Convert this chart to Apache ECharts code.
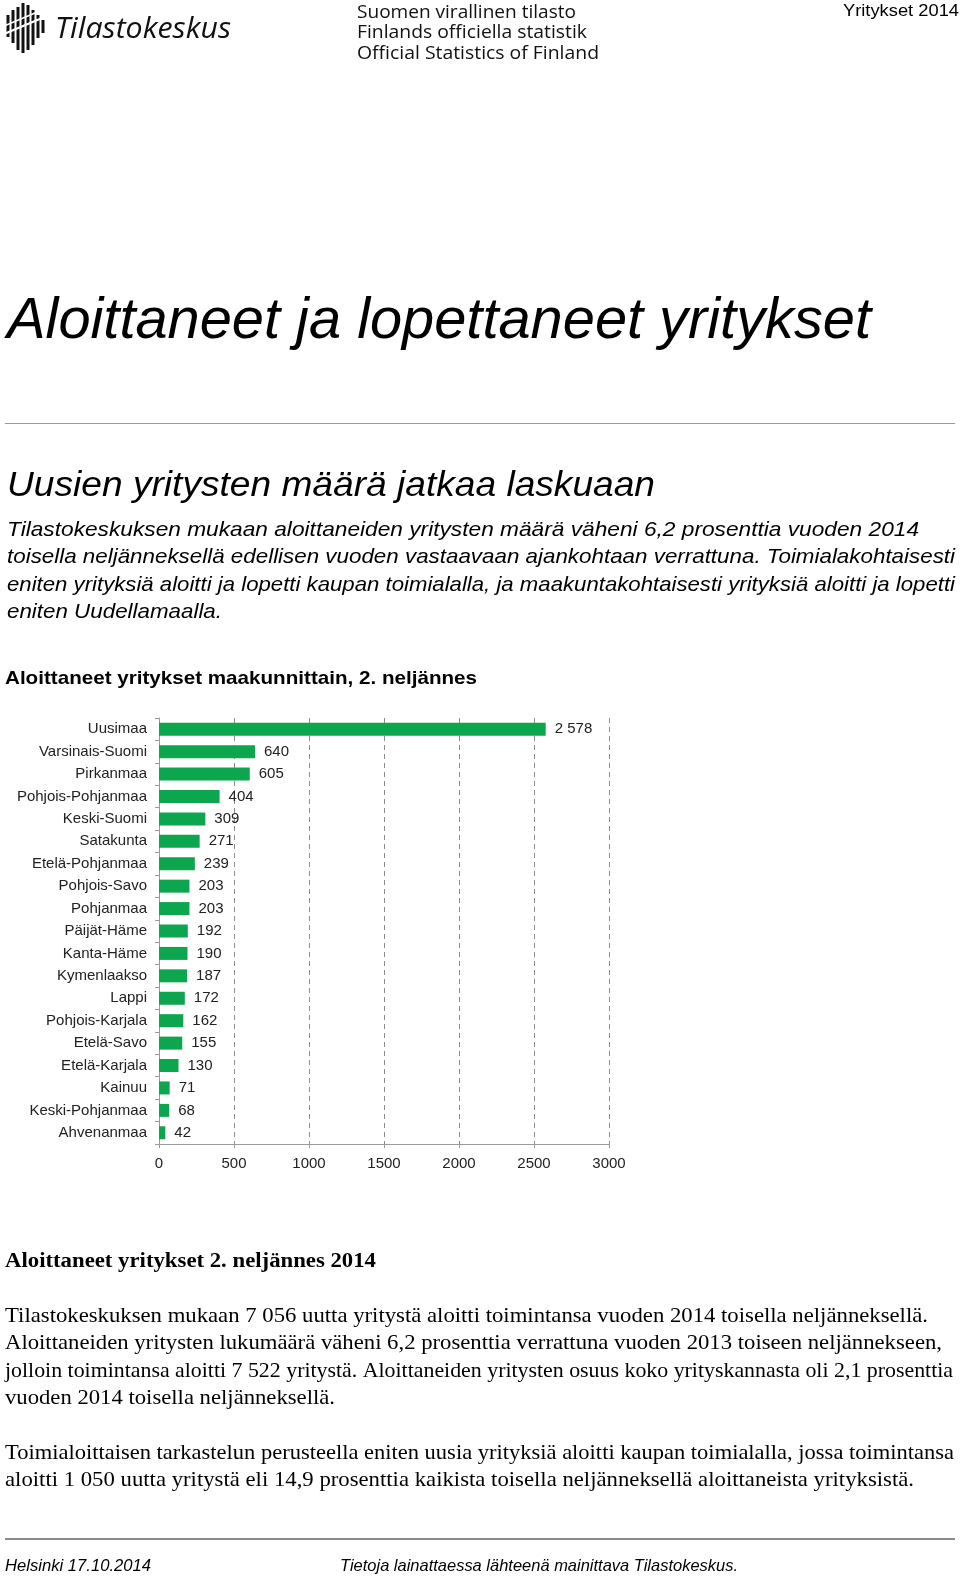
<!DOCTYPE html>
<html>
<head>
<meta charset="utf-8">
<script src="https://cdn.jsdelivr.net/npm/echarts@6/dist/echarts.min.js"></script>
<style>
html,body{margin:0;padding:0;background:#fff;}
#page{width:960px;height:1579px;}
</style>
</head>
<body>
<div id="page"></div>
<script>
// ---------- DATA ----------
const regions = ["Uusimaa","Varsinais-Suomi","Pirkanmaa","Pohjois-Pohjanmaa","Keski-Suomi","Satakunta","Etelä-Pohjanmaa","Pohjois-Savo","Pohjanmaa","Päijät-Häme","Kanta-Häme","Kymenlaakso","Lappi","Pohjois-Karjala","Etelä-Savo","Etelä-Karjala","Kainuu","Keski-Pohjanmaa","Ahvenanmaa"];
const startups = [2578,640,605,404,309,271,239,203,203,192,190,187,172,162,155,130,71,68,42];
const axisMin = 0, axisMax = 3000, axisStep = 500;

const headerLines = ["Suomen virallinen tilasto","Finlands officiella statistik","Official Statistics of Finland"];
const docLabel = "Yritykset 2014";
const mainTitle = "Aloittaneet ja lopettaneet yritykset";
const subTitle = "Uusien yritysten määrä jatkaa laskuaan";
const leadLines = [
  "Tilastokeskuksen mukaan aloittaneiden yritysten määrä väheni 6,2 prosenttia vuoden 2014",
  "toisella neljänneksellä edellisen vuoden vastaavaan ajankohtaan verrattuna. Toimialakohtaisesti",
  "eniten yrityksiä aloitti ja lopetti kaupan toimialalla, ja maakuntakohtaisesti yrityksiä aloitti ja lopetti",
  "eniten Uudellamaalla."
];
const chartTitle = "Aloittaneet yritykset maakunnittain, 2. neljännes";
const bodyTitle = "Aloittaneet yritykset 2. neljännes 2014";
const bodyLines = [
  "Tilastokeskuksen mukaan 7 056 uutta yritystä aloitti toimintansa vuoden 2014 toisella neljänneksellä.",
  "Aloittaneiden yritysten lukumäärä väheni 6,2 prosenttia verrattuna vuoden 2013 toiseen neljännekseen,",
  "jolloin toimintansa aloitti 7 522 yritystä. Aloittaneiden yritysten osuus koko yrityskannasta oli 2,1 prosenttia",
  "vuoden 2014 toisella neljänneksellä.",
  "Toimialoittaisen tarkastelun perusteella eniten uusia yrityksiä aloitti kaupan toimialalla, jossa toimintansa",
  "aloitti 1 050 uutta yritystä eli 14,9 prosenttia kaikista toisella neljänneksellä aloittaneista yrityksistä."
];
const footerLeft = "Helsinki 17.10.2014";
const footerRight = "Tietoja lainattaessa lähteenä mainittava Tilastokeskus.";

// ---------- HELPERS ----------
const SANS = "'Liberation Sans', Arial, sans-serif";
const SERIF = "'Liberation Serif', 'Times New Roman', serif";
const mctx = document.createElement('canvas').getContext('2d');
function txt(text, x, y, o) {
  o = o || {};
  const size = o.size || 16, fam = o.family || SANS, w = o.weight || 'normal', st = o.style || 'normal';
  let sx = 1;
  if (o.width) {
    mctx.font = st + ' ' + w + ' ' + size + 'px ' + fam;
    const m = mctx.measureText(text).width;
    if (m > 0) sx = o.width / m;
  }
  return {
    type: 'text', x: x, y: y, scaleX: sx, silent: true,
    style: {
      text: text, x: 0, y: 0,
      fontSize: size, fontFamily: fam, fontWeight: w, fontStyle: st,
      fill: o.color || '#000',
      textAlign: o.align || 'left', textVerticalAlign: 'middle'
    }
  };
}
function fmt(v) { return String(v).replace(/\B(?=(\d{3})+(?!\d))/g, ' '); }

// ---------- GRAPHICS ----------
const g = [];
// logo bars
const logoBars = [[8,15,37],[13,10,43],[18,7,50],[23,3,53],[28,5,50],[33,10,45],[38,15,38],[43,20,33]];
logoBars.forEach(b => g.push({type:'rect', silent:true, shape:{x:b[0]-1.5, y:b[1], width:3, height:b[2]-b[1]}, style:{fill:'#111'}}));
g.push({type:'line', silent:true, shape:{x1:4, y1:34, x2:47, y2:16}, style:{stroke:'#fff', lineWidth:2.2}});
g.push({type:'line', silent:true, shape:{x1:4, y1:26, x2:47, y2:8}, style:{stroke:'#fff', lineWidth:1.6}});
g.push(txt("Tilastokeskus", 55, 29, {size:30, style:'italic', family:"'Open Sans', " + SANS, width:176, color:'#111'}));
// header
const hy = [12.5, 33, 53.5], hw = [219, 230, 242];
headerLines.forEach((t, i) => g.push(txt(t, 357, hy[i], {size:19, family:"'Open Sans', " + SANS, width:hw[i], color:'#111'})));
g.push(txt(docLabel, 959, 11, {size:17, align:'right', width:116}));
// titles
g.push(txt(mainTitle, 7, 322, {size:58, style:'italic', width:864}));
g.push({type:'line', silent:true, shape:{x1:5, y1:423.5, x2:955, y2:423.5}, style:{stroke:'#999', lineWidth:1}});
g.push(txt(subTitle, 7, 486, {size:35, style:'italic', width:648}));
const leadY = [530, 557.5, 585, 612.5], leadW = [912, 948, 948, 215];
leadLines.forEach((t, i) => g.push(txt(t, 7, leadY[i], {size:21, style:'italic', width:leadW[i]})));
g.push(txt(chartTitle, 5, 679, {size:19, weight:'bold', width:472}));
g.push(txt(bodyTitle, 5, 1262, {size:20, weight:'bold', family:SERIF, width:371}));
const bodyY = [1316, 1343.5, 1371, 1398.5, 1453, 1480.5], bodyW = [923, 937, 948, 330, 949, 909];
bodyLines.forEach((t, i) => g.push(txt(t, 5, bodyY[i], {size:21, family:SERIF, width:bodyW[i]})));
// footer
g.push({type:'line', silent:true, shape:{x1:5, y1:1539, x2:955, y2:1539}, style:{stroke:'#8a8a8a', lineWidth:2}});
g.push(txt(footerLeft, 5, 1566, {size:17, style:'italic', width:146}));
g.push(txt(footerRight, 340, 1566, {size:17, style:'italic', width:398}));

// ---------- CHART ----------
const chart = echarts.init(document.getElementById('page'), null, {renderer:'canvas', width:960, height:1579});
chart.setOption({
  animation: false,
  backgroundColor: '#fff',
  textStyle: {fontFamily: SANS},
  graphic: g,
  grid: {left: 159, top: 718, width: 450, height: 426, containLabel: false},
  xAxis: {
    type: 'value', min: axisMin, max: axisMax, interval: axisStep,
    axisLine: {show: true, lineStyle: {color: '#9a9a9a', width: 1}},
    axisTick: {show: true, length: 4, lineStyle: {color: '#9a9a9a'}},
    splitLine: {show: true, lineStyle: {color: '#8c8c8c', type: [5, 4], width: 1}},
    axisLabel: {fontSize: 15, color: '#222', margin: 12, fontFamily: SANS, formatter: v => String(v)}
  },
  yAxis: {
    type: 'category', inverse: true, data: regions,
    axisLine: {show: true, lineStyle: {color: '#9a9a9a', width: 1}},
    axisTick: {show: true, length: 4, lineStyle: {color: '#9a9a9a'}},
    splitLine: {show: false},
    axisLabel: {fontSize: 15, color: '#222', margin: 12, fontFamily: SANS}
  },
  series: [{
    type: 'bar', data: startups, barWidth: 13,
    itemStyle: {color: '#0ca64f'},
    label: {show: true, position: 'right', distance: 9, fontSize: 15, color: '#222', fontFamily: SANS,
            formatter: p => fmt(p.value)}
  }]
});
</script>
</body>
</html>
